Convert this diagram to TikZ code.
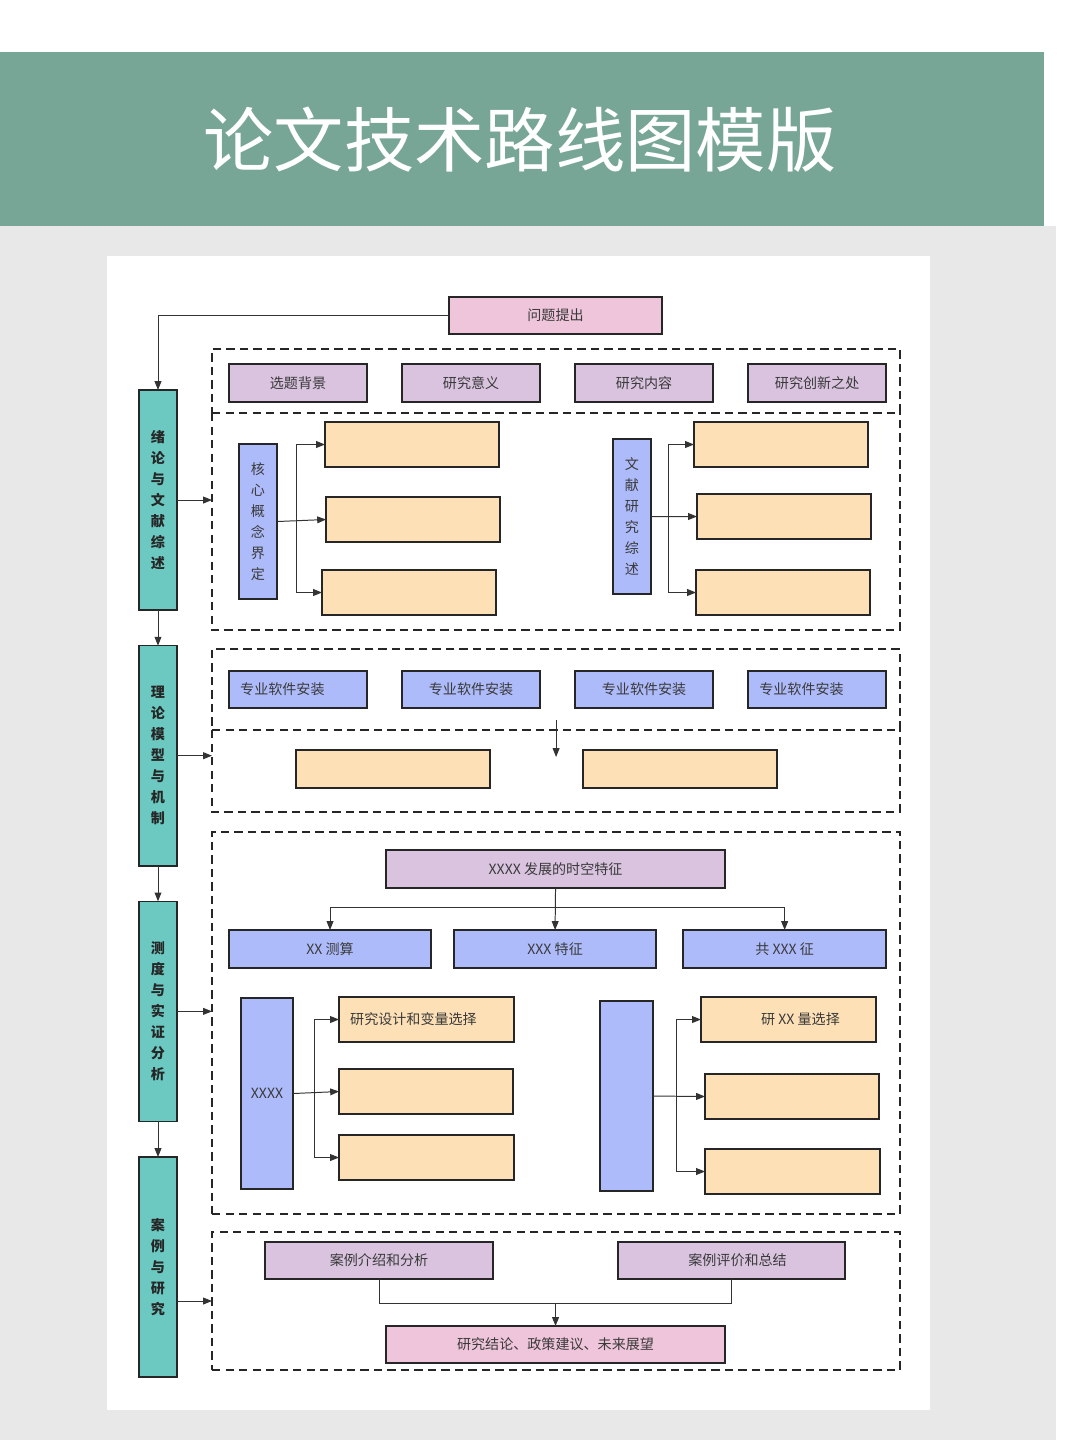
\documentclass[tikz,border=0pt]{standalone}
\usepackage{fontspec}
\setmainfont{Noto Sans CJK SC}
\usetikzlibrary{positioning, arrows.meta}

\definecolor{bandgreen}{HTML}{77A697}
\definecolor{pagegray}{HTML}{E8E8E8}
\definecolor{pinkfill}{HTML}{EEC5DA}
\definecolor{lilacfill}{HTML}{D9C3DF}
\definecolor{bluefill}{HTML}{AEBBFA}
\definecolor{sandfill}{HTML}{FDE0B6}
\definecolor{tealfill}{HTML}{6BC9C1}
\definecolor{inkgray}{HTML}{3A3A3A}

\begin{document}
\begin{tikzpicture}[
    x=0.025cm, y=-0.025cm,
    box/.style={
        rectangle,
        draw=black!85,
        line width=1.1pt,
        outer sep=0pt,
        inner sep=0pt,
        text=inkgray,
        font=\fontsize{10}{15}\selectfont
    },
    topbox/.style={box, fill=pinkfill, minimum width=8.475cm, minimum height=0.925cm},
    lilac/.style={box, fill=lilacfill, minimum width=3.45cm, minimum height=0.95cm},
    soft/.style={box, fill=bluefill, minimum width=3.45cm, minimum height=0.925cm},
    sand/.style={box, fill=sandfill, minimum width=4.35cm, minimum height=1.125cm},
    pillar/.style={box, fill=bluefill, minimum width=0.95cm, minimum height=3.875cm,
        align=center, font=\fontsize{10}{14.9}\selectfont},
    side/.style={box, fill=tealfill, minimum width=0.95cm, minimum height=5.5cm,
        align=center, text=black!85, font=\fontsize{10}{14.9}\selectfont\bfseries},
    dashline/.style={draw=black!85, line width=1pt, dash pattern=on 6pt off 3.6pt},
    frame/.style={rectangle, dashline, outer sep=0pt, inner sep=0pt, minimum width=17.2cm},
    openframe/.style={frame, draw=none},
    lefttext/.style={text width=#1, align=left, inner xsep=0.28cm},
    conn/.style={draw=black!80, line width=0.7pt},
    arrow/.style={conn, -{Triangle[length=2.2mm, width=1.7mm]}}
]

    % -- Page --
    \useasboundingbox (0,0) rectangle (1080,1440);
    \fill[white] (0,0) rectangle (1080,1440);
    \fill[pagegray] (0,226) rectangle (1056,1440);
    \fill[bandgreen] (0,52) rectangle (1044,226);
    \fill[white] (107,256) rectangle (930,1410);

    \node[font=\fontsize{50}{60}\selectfont, text=white] (title) at (520,140) {论文技术路线图模版};

    % -- Left column --
    \node[side, anchor=north] (s1) at (158,390) {绪\\论\\与\\文\\献\\综\\述};
    \node[side, below=0.89cm of s1] (s2) {理\\论\\模\\型\\与\\机\\制};
    \node[side, below=0.89cm of s2] (s3) {测\\度\\与\\实\\证\\分\\析};
    \node[side, below=0.89cm of s3] (s4) {案\\例\\与\\研\\究};

    \draw[arrow] (s1.south) -- (s2.north);
    \draw[arrow] (s2.south) -- (s3.north);
    \draw[arrow] (s3.south) -- (s4.north);

    % -- Dashed frames --
    \node[frame, anchor=north west, minimum height=1.6cm] (f1) at (212,349) {};
    \node[openframe, anchor=north west, minimum height=5.425cm] (f2) at (212,413) {};
    \node[frame, anchor=north west, minimum height=2.025cm] (f3) at (212,649) {};
    \node[openframe, anchor=north west, minimum height=2.05cm] (f4) at (212,730) {};
    \node[frame, anchor=north west, minimum height=9.55cm] (f5) at (212,832) {};
    \node[frame, anchor=north west, minimum height=3.45cm] (f6) at (212,1232) {};
    % lower frames share their top edge with the frame above
    \draw[dashline] (f2.north west) -- (f2.south west) -- (f2.south east) -- (f2.north east);
    \draw[dashline] (f4.north west) -- (f4.south west) -- (f4.south east) -- (f4.north east);

    \draw[arrow] (s1.east) -- (s1.east -| f2.west);
    \draw[arrow] (s2.east) -- (s2.east -| f4.west);
    \draw[arrow] (s3.east) -- (s3.east -| f5.west);
    \draw[arrow] (s4.east |- f6.west) -- (f6.west);

    % -- Question --
    \node[topbox, minimum width=5.325cm, anchor=north west] (q) at (449,297) {问题提出};
    \draw[arrow] (q.west) -| (s1.north);

    % -- Section 1 --
    \node[lilac, anchor=north west] (i1) at (229,364) {选题背景};
    \node[lilac, right=0.875cm of i1] (i2) {研究意义};
    \node[lilac, right=0.875cm of i2] (i3) {研究内容};
    \node[lilac, right=0.875cm of i3] (i4) {研究创新之处};

    \node[pillar, anchor=north west] (k1) at (239,444) {核\\心\\概\\念\\界\\定};
    \node[sand, anchor=north west] (a1) at (325,422) {};
    \node[sand, anchor=north west] (a2) at (326,497) {};
    \node[sand, anchor=north west] (a3) at (322,570) {};
    \coordinate (kj) at ([xshift=0.475cm]k1.east);
    \draw[conn] (kj |- a1.west) -- (kj |- a3.west);
    \draw[arrow] (k1.east) -- (a2.west);
    \draw[arrow] (kj |- a1.west) -- (a1.west);
    \draw[arrow] (kj |- a3.west) -- (a3.west);

    \node[pillar, anchor=north west] (w1) at (613,439) {文\\献\\研\\究\\综\\述};
    \node[sand, anchor=north west] (b1) at (694,422) {};
    \node[sand, anchor=north west] (b2) at (697,494) {};
    \node[sand, anchor=north west] (b3) at (696,570) {};
    \coordinate (wj) at ([xshift=0.425cm]w1.east);
    \draw[conn] (wj |- b1.west) -- (wj |- b3.west);
    \draw[arrow] (w1.east) -- (b2.west);
    \draw[arrow] (wj |- b1.west) -- (b1.west);
    \draw[arrow] (wj |- b3.west) -- (b3.west);

    % -- Section 2 --
    \node[soft, lefttext=2.89cm, anchor=north west] (m1) at (229,671) {专业软件安装};
    \node[soft, right=0.875cm of m1] (m2) {专业软件安装};
    \node[soft, right=0.875cm of m2] (m3) {专业软件安装};
    \node[soft, lefttext=2.89cm, right=0.875cm of m3] (m4) {专业软件安装};

    \draw[arrow] ([yshift=0.25cm]f3.south) -- ([yshift=-0.675cm]f3.south);

    \node[sand, minimum width=4.85cm, minimum height=0.95cm, anchor=north west] (c1) at (296,750) {};
    \node[sand, minimum width=4.85cm, minimum height=0.95cm, anchor=north west] (c2) at (583,750) {};

    % -- Section 3 --
    \node[topbox, fill=lilacfill, minimum height=0.95cm, anchor=north west] (t) at (386,850) {XXXX 发展的时空特征};
    \node[soft, minimum width=5.05cm, minimum height=0.95cm, anchor=north west] (d1) at (229,930) {XX 测算};
    \node[soft, minimum width=5.05cm, minimum height=0.95cm, right=0.575cm of d1] (d2) {XXX 特征};
    \node[soft, minimum width=5.075cm, minimum height=0.95cm, right=0.675cm of d2] (d3) {共 XXX 征};

    \coordinate (tj) at ([yshift=-0.475cm]t.south);
    \draw[conn] (d1.north |- tj) -- (d3.north |- tj);
    \draw[arrow] (t.south) -- (d2.north);
    \draw[arrow] (d1.north |- tj) -- (d1.north);
    \draw[arrow] (d3.north |- tj) -- (d3.north);

    \node[pillar, minimum width=1.3cm, minimum height=4.775cm, anchor=north west] (e1) at (241,998) {XXXX};
    \node[sand, minimum width=4.375cm, lefttext=3.815cm, anchor=north west] (g1) at (339,997) {研究设计和变量选择};
    \node[sand, minimum width=4.35cm, anchor=north west] (g2) at (339,1069) {};
    \node[sand, minimum width=4.375cm, anchor=north west] (g3) at (339,1135) {};
    \coordinate (ej) at ([xshift=0.525cm]e1.east);
    \draw[conn] (ej |- g1.west) -- (ej |- g3.west);
    \draw[arrow] (e1.east) -- (g2.west);
    \draw[arrow] (ej |- g1.west) -- (g1.west);
    \draw[arrow] (ej |- g3.west) -- (g3.west);

    \node[pillar, minimum width=1.325cm, minimum height=4.75cm, anchor=north west] (e2) at (600,1001) {};
    \node[sand, minimum width=4.375cm, anchor=north west] (h1) at (701,997) {\hspace*{0.6cm}研 XX 量选择};
    \node[sand, anchor=north west] (h2) at (705,1074) {};
    \node[sand, minimum width=4.375cm, anchor=north west] (h3) at (705,1149) {};
    \coordinate (hj) at ([xshift=0.575cm]e2.east);
    \draw[conn] (hj |- h1.west) -- (hj |- h3.west);
    \draw[arrow] (e2.east) -- (h2.west);
    \draw[arrow] (hj |- h1.west) -- (h1.west);
    \draw[arrow] (hj |- h3.west) -- (h3.west);

    % -- Section 4 --
    \node[lilac, minimum width=5.7cm, minimum height=0.925cm, anchor=north west] (p1) at (265,1242) {案例介绍和分析};
    \node[lilac, minimum width=5.675cm, minimum height=0.925cm, anchor=north west] (p2) at (618,1242) {\hspace*{0.3cm}案例评价和总结};
    \node[topbox, anchor=north west] (r) at (386,1326) {研究结论、政策建议、未来展望};

    \coordinate (pj) at ([yshift=-0.6cm]p1.south);
    \draw[conn] (p1.south) -- (pj) -| (p2.south);
    \draw[arrow] (r.north |- pj) -- (r.north);

\end{tikzpicture}
\end{document}
